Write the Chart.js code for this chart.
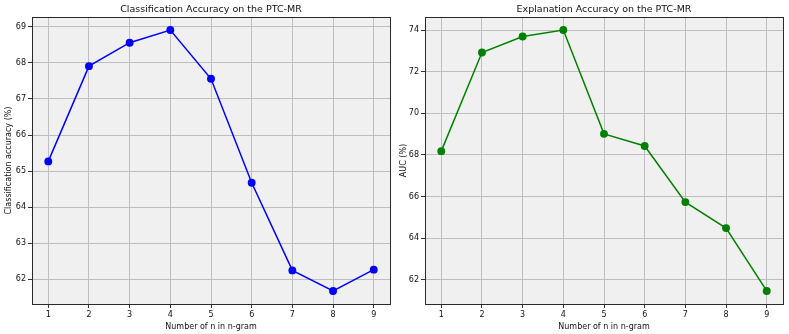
<!DOCTYPE html>
<html>
<head>
<meta charset="utf-8">
<script src="https://cdn.jsdelivr.net/npm/chart.js@4"></script>
<style>
  html, body { margin: 0; padding: 0; background: #fff; }
  #wrap { position: relative; width: 789px; height: 334px; }
  canvas { position: absolute; top: 0; }
  #left { left: 0; }
  #right { left: 395px; }
</style>
</head>
<body>
<div id="wrap">
  <canvas id="left" width="395" height="334"></canvas>
  <canvas id="right" width="394" height="334"></canvas>
</div>
<script>
const nValues = [1, 2, 3, 4, 5, 6, 7, 8, 9];
const clsAccuracy = [65.27, 67.91, 68.56, 68.91, 67.56, 64.68, 62.25, 61.68, 62.27];
const aucValues = [68.18, 72.92, 73.69, 74.0, 69.01, 68.43, 65.73, 64.48, 61.46];
const clsTicks = [62, 63, 64, 65, 66, 67, 68, 69];
const aucTicks = [62, 64, 66, 68, 70, 72, 74];

const font = "'DejaVu Sans', sans-serif";

// matplotlib-style 5% padding around the data
function limits(values) {
  const lo = Math.min(...values), hi = Math.max(...values);
  const pad = (hi - lo) * 0.05;
  return { min: lo - pad, max: hi + pad };
}

const frame = {
  id: "frame",
  afterLayout(chart) {
    // center the title over the plot area, not the whole canvas
    const t = chart.titleBlock;
    if (t) {
      t.left = chart.chartArea.left;
      t.right = chart.chartArea.right;
      t.width = t.right - t.left;
    }
  },
  beforeDraw(chart) {
    const { ctx, chartArea: a } = chart;
    ctx.save();
    ctx.fillStyle = "#f0f0f0";
    ctx.fillRect(a.left, a.top, a.right - a.left, a.bottom - a.top);
    ctx.restore();
  },
  afterDraw(chart) {
    const { ctx, chartArea: a } = chart;
    ctx.save();
    ctx.strokeStyle = "#2a2a2a";
    ctx.lineWidth = 1;
    ctx.strokeRect(Math.round(a.left) + 0.5, Math.round(a.top) + 0.5,
      Math.round(a.right - a.left), Math.round(a.bottom - a.top));
    ctx.restore();
  },
};

function makeChart(id, opts) {
  const xLim = limits(nValues);
  const yLim = limits(opts.values);
  return new Chart(document.getElementById(id), {
    type: "line",
    data: {
      datasets: [{
        data: nValues.map((n, i) => ({ x: n, y: opts.values[i] })),
        borderColor: opts.color,
        backgroundColor: opts.color,
        borderWidth: 1.5,
        pointRadius: 3.2,
        pointHoverRadius: 3.2,
        tension: 0,
      }],
    },
    options: {
      responsive: false,
      animation: false,
      layout: { padding: { left: 0, right: opts.padRight, top: 0, bottom: 0 } },
      plugins: {
        legend: { display: false },
        tooltip: { enabled: false },
        title: {
          display: true,
          text: opts.title,
          color: "#111",
          font: { family: font, size: 9.5, weight: "normal" },
          padding: { top: 4, bottom: 1.6 },
        },
      },
      scales: {
        x: {
          type: "linear",
          min: xLim.min,
          max: xLim.max,
          afterBuildTicks: (axis) => { axis.ticks = nValues.map((v) => ({ value: v })); },
          afterFit: (axis) => { axis.height = 30; },
          ticks: {
            color: "#111",
            font: { family: font, size: 8 },
            padding: 2,
            maxRotation: 0,
            callback: (v) => String(v),
          },
          grid: { color: "#bebebe", lineWidth: 1, tickLength: 4, tickColor: "#333" },
          border: { color: "#2a2a2a" },
          title: {
            display: true,
            text: "Number of n in n-gram",
            color: "#111",
            font: { family: font, size: 8 },
            padding: { top: 1, bottom: 2 },
          },
        },
        y: {
          min: yLim.min,
          max: yLim.max,
          afterBuildTicks: (axis) => { axis.ticks = opts.ticks.map((v) => ({ value: v })); },
          afterFit: (axis) => { axis.width = opts.yWidth; },
          ticks: {
            color: "#111",
            font: { family: font, size: 8 },
            padding: 2,
            callback: (v) => String(v),
          },
          grid: { color: "#bebebe", lineWidth: 1, tickLength: 4, tickColor: "#333" },
          border: { color: "#2a2a2a" },
          title: {
            display: true,
            text: opts.yTitle,
            color: "#111",
            font: { family: font, size: 8 },
            padding: { top: 4, bottom: 2 },
          },
        },
      },
    },
    plugins: [frame],
  });
}

makeChart("left", {
  values: clsAccuracy,
  ticks: clsTicks,
  color: "#0000ff",
  title: "Classification Accuracy on the PTC-MR",
  yTitle: "Classification accuracy (%)",
  yWidth: 32,
  padRight: 5,
});

makeChart("right", {
  values: aucValues,
  ticks: aucTicks,
  color: "#008000",
  title: "Explanation Accuracy on the PTC-MR",
  yTitle: "AUC (%)",
  yWidth: 30,
  padRight: 6,
});
</script>
</body>
</html>
